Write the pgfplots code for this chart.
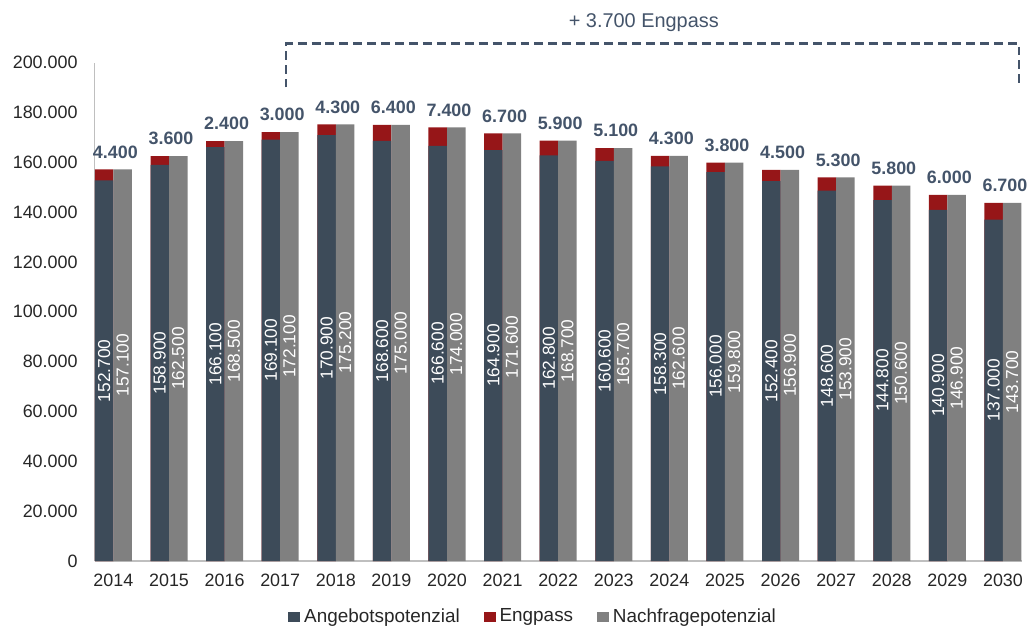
\documentclass[border=0pt]{standalone}
\usepackage{pgfplots}
\usepackage{pgfplotstable}
\pgfplotsset{compat=1.18}
\usepackage{fontspec}
\setmainfont{Liberation Sans}

\definecolor{slate}{RGB}{61,75,89}
\definecolor{slatetxt}{RGB}{68,84,106}
\definecolor{engred}{RGB}{150,22,24}
\definecolor{nachgray}{RGB}{128,128,128}
\definecolor{txt}{RGB}{38,38,38}

% values in thousands
\pgfplotstableread{
x  year A     N     E
0  2014 152.7 157.1 4.4
1  2015 158.9 162.5 3.6
2  2016 166.1 168.5 2.4
3  2017 169.1 172.1 3.0
4  2018 170.9 175.2 4.3
5  2019 168.6 175.0 6.4
6  2020 166.6 174.0 7.4
7  2021 164.9 171.6 6.7
8  2022 162.8 168.7 5.9
9  2023 160.6 165.7 5.1
10 2024 158.3 162.6 4.3
11 2025 156.0 159.8 3.8
12 2026 152.4 156.9 4.5
13 2027 148.6 153.9 5.3
14 2028 144.8 150.6 5.8
15 2029 140.9 146.9 6.0
16 2030 137.0 143.7 6.7
}\data

\newcommand\thsd[1]{\pgfmathprintnumber[fixed,fixed zerofill,precision=3,dec sep={.},assume math mode=true]{#1}}

\pgfplotsset{
  sq legend/.style={legend image code/.code={\fill[##1] (0pt,-2.5pt) rectangle (6pt,2.5pt);}},
  inside label/.style={
    visualization depends on={rawy \as \rawy},
    nodes near coords={\thsd{\pgfplotspointmeta}},
    nodes near coords style={yshift=-0.62625*\rawy, rotate=90, anchor=center, text=white,
      font=\fontsize{8.7}{10}\selectfont, inner sep=0pt},
  },
}

\begin{document}
\begin{tikzpicture}
\begin{axis}[
  scale only axis,
  width=466pt, height=250.5pt,
  xmin=-0.34, xmax=16.34,
  ymin=0, ymax=200,
  ybar, bar width=9.3pt,
  xtick={0,...,16},
  xticklabels={2014,2015,2016,2017,2018,2019,2020,2021,2022,2023,2024,2025,2026,2027,2028,2029,2030},
  ytick={0,20,...,200},
  yticklabels={0,20.000,40.000,60.000,80.000,100.000,120.000,140.000,160.000,180.000,200.000},
  axis x line=bottom, axis y line=left,
  axis line style={-, draw=black!25, line width=0.7pt},
  major tick length=0pt,
  tick label style={font=\fontsize{9}{11}\selectfont, color=txt},
  yticklabel style={xshift=-5pt},
  xticklabel style={yshift=-3pt},
  clip=false,
  legend style={at={(0.474,-0.112)}, anchor=center, draw=none, fill=none,
    legend columns=-1, font=\fontsize{9.5}{11}\selectfont, text=txt,
    /tikz/every even column/.append style={column sep=10pt}},
]
% Engpass (stacked on top of Angebotspotenzial); carries the Engpass values as labels
\addplot[fill=engred, draw=none, bar shift=-4.65pt, forget plot,
  point meta=\thisrow{E},
  nodes near coords={\thsd{\pgfplotspointmeta}},
  nodes near coords style={anchor=south, xshift=5.65pt, yshift=2pt, text=slatetxt,
    font=\bfseries\fontsize{9}{11}\selectfont}]
  table[x=x, y=N] {\data};
\addplot[fill=slate, draw=none, bar shift=-4.65pt, sq legend, inside label]
  table[x=x, y=A] {\data};
\addlegendentry{Angebotspotenzial}
\addlegendimage{fill=engred, draw=none, sq legend}
\addlegendentry{Engpass}
\addplot[fill=nachgray, draw=none, bar shift=4.65pt, sq legend, inside label]
  table[x=x, y=N] {\data};
\addlegendentry{Nachfragepotenzial}

\draw[slatetxt, line width=1.2pt, dash pattern=on 4.5pt off 2.5pt]
  (axis cs:3.1,190) -- (axis cs:3.1,207.6) -- (axis cs:16.29,207.6) -- (axis cs:16.29,190);
\node[text=slatetxt, font=\fontsize{10}{12}\selectfont] at (axis cs:9.54,216) {+ 3.700 Engpass};
\path (axis cs:-2.04,225.1) rectangle (axis cs:16.47,-26.3);
\end{axis}
\end{tikzpicture}
\end{document}
